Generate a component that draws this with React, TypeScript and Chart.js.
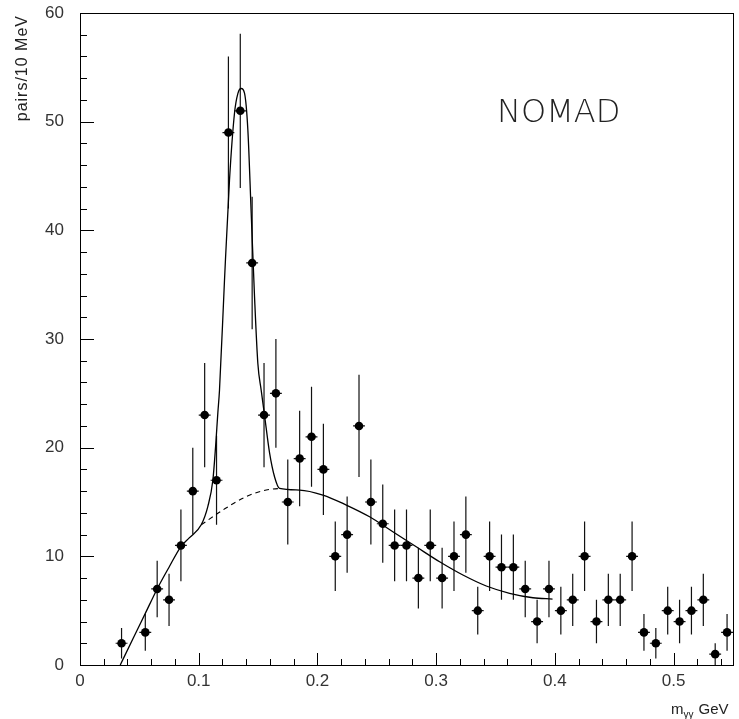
import React, { useEffect, useRef } from "react";
import { Chart, registerables } from "chart.js";

Chart.register(...registerables);

// Bin centres (GeV) and counts per 10 MeV
const massBins = [
  0.035, 0.055, 0.065, 0.075, 0.085, 0.095, 0.105, 0.115, 0.125, 0.135,
  0.145, 0.155, 0.165, 0.175, 0.185, 0.195, 0.205, 0.215, 0.225, 0.235,
  0.245, 0.255, 0.265, 0.275, 0.285, 0.295, 0.305, 0.315, 0.325, 0.335,
  0.345, 0.355, 0.365, 0.375, 0.385, 0.395, 0.405, 0.415, 0.425, 0.435,
  0.445, 0.455, 0.465, 0.475, 0.485, 0.495, 0.505, 0.515, 0.525, 0.535,
  0.545,
];
const pairCounts = [
  2, 3, 7, 6, 11, 16, 23, 17, 49, 51,
  37, 23, 25, 15, 19, 21, 18, 10, 12, 22,
  15, 13, 11, 11, 8, 11, 8, 10, 12, 5,
  10, 9, 9, 7, 4, 7, 5, 6, 10, 4,
  6, 6, 10, 3, 2, 5, 4, 5, 6, 1,
  3,
];
const countErrors = [
  1.4, 1.7, 2.6, 2.4, 3.3, 4.0, 4.8, 4.1, 7.0, 7.1,
  6.1, 4.8, 5.0, 3.9, 4.4, 4.6, 4.2, 3.2, 3.5, 4.7,
  3.9, 3.6, 3.3, 3.3, 2.8, 3.3, 2.8, 3.2, 3.5, 2.2,
  3.2, 3.0, 3.0, 2.6, 2.0, 2.6, 2.2, 2.4, 3.2, 2.0,
  2.4, 2.4, 3.2, 1.7, 1.4, 2.2, 2.0, 2.2, 2.4, 1.0,
  1.7,
];
const binHalfWidth = 0.005;

// Fit curve (signal + background), solid
const fitMass = [
  0.0339, 0.045, 0.055, 0.065, 0.075, 0.085, 0.092, 0.1021, 0.1077, 0.1119,
  0.1142, 0.1161, 0.1175, 0.1217, 0.1259, 0.1301, 0.133, 0.1358, 0.1386, 0.1414,
  0.1442, 0.147, 0.1498, 0.1526, 0.1554, 0.1597, 0.1639, 0.1681, 0.1849, 0.2046,
  0.2243, 0.2439, 0.2635, 0.2832, 0.3029, 0.3225, 0.3422, 0.3618, 0.3815, 0.398,
];
const fitValues = [
  0, 2.5, 4.75, 7.0, 9.0, 10.9, 11.7, 12.9, 14.6, 17.0,
  20.1, 23.2, 25.3, 35.4, 44.6, 50.75, 52.6, 53.05, 52.6, 49.2,
  41.55, 33.9, 27.75, 25.3, 23.0, 19.5, 17.3, 16.25, 16.1, 15.64,
  14.72, 13.64, 12.26, 10.88, 9.5, 8.28, 7.27, 6.6, 6.19, 6.07,
];

// Background under the peak, dashed
const bgMass = [0.1021, 0.1203, 0.14, 0.1569, 0.1681];
const bgValues = [12.9, 14.26, 15.5, 16.1, 16.25];

const xMajorTicks = [0, 0.1, 0.2, 0.3, 0.4, 0.5];
const yMajorTicks = [0, 10, 20, 30, 40, 50, 60];

const FONT = "'Liberation Sans', Arial, sans-serif";

const decorPlugin = {
  id: "decor",
  beforeDatasetsDraw(chart: any) {
    const { ctx, scales } = chart;
    const xs = scales.x;
    const ys = scales.y;
    ctx.save();
    ctx.strokeStyle = "#111";
    ctx.lineWidth = 1.2;
    massBins.forEach((m, i) => {
      const px = xs.getPixelForValue(m);
      const py = ys.getPixelForValue(pairCounts[i]);
      const e = countErrors[i];
      ctx.beginPath();
      ctx.moveTo(px, ys.getPixelForValue(pairCounts[i] - e));
      ctx.lineTo(px, ys.getPixelForValue(pairCounts[i] + e));
      ctx.moveTo(xs.getPixelForValue(m - binHalfWidth), py);
      ctx.lineTo(xs.getPixelForValue(m + binHalfWidth), py);
      ctx.stroke();
    });
    ctx.restore();
  },
  afterDraw(chart: any) {
    const { ctx, chartArea, scales } = chart;
    const xs = scales.x;
    const ys = scales.y;
    const { left, right, top, bottom } = chartArea;
    ctx.save();
    ctx.strokeStyle = "#000";
    ctx.lineWidth = 1;
    ctx.strokeRect(Math.round(left) + 0.5, Math.round(top) + 0.5, Math.round(right - left), Math.round(bottom - top));

    // inward ticks on x axis
    ctx.beginPath();
    for (let k = 0; k <= 27; k++) {
      const v = k * 0.02;
      const px = Math.round(xs.getPixelForValue(v)) + 0.5;
      const major = k % 5 === 0;
      ctx.moveTo(px, bottom);
      ctx.lineTo(px, bottom - (major ? 12 : 6));
    }
    // inward ticks on y axis
    for (let k = 0; k <= 30; k++) {
      const v = k * 2;
      const py = Math.round(ys.getPixelForValue(v)) + 0.5;
      const major = k % 5 === 0;
      ctx.moveTo(left, py);
      ctx.lineTo(left + (major ? 14 : 7), py);
    }
    ctx.stroke();

    // y axis title
    ctx.fillStyle = "#222";
    ctx.save();
    ctx.translate(27, 15);
    ctx.rotate(-Math.PI / 2);
    ctx.font = `16px ${FONT}`;
    (ctx as any).letterSpacing = "1px";
    ctx.textAlign = "right";
    ctx.textBaseline = "alphabetic";
    ctx.fillText("pairs/10 MeV", 0, 0);
    ctx.restore();

    // x axis title: m_γγ GeV
    ctx.textBaseline = "alphabetic";
    ctx.textAlign = "left";
    ctx.font = `15px ${FONT}`;
    const base = 714;
    let x = 671;
    ctx.fillText("m", x, base);
    x += ctx.measureText("m").width;
    ctx.font = `10px ${FONT}`;
    ctx.fillText("γγ", x, base + 4);
    x += ctx.measureText("γγ").width + 5;
    ctx.font = `15px ${FONT}`;
    ctx.fillText("GeV", x, base);

    // NOMAD label
    ctx.fillStyle = "#222";
    ctx.font = `200 32px 'DejaVu Sans', ${FONT}`;
    ctx.textAlign = "left";
    ctx.fillText("NOMAD", 497, 122);
    ctx.restore();
  },
};

export default function App() {
  const canvasRef = useRef<HTMLCanvasElement | null>(null);

  useEffect(() => {
    const canvas = canvasRef.current;
    if (!canvas) return;
    const chart = new Chart(canvas, {
      type: "scatter",
      data: {
        datasets: [
          {
            label: "data",
            data: massBins.map((m, i) => ({ x: m, y: pairCounts[i] })),
            backgroundColor: "#000",
            borderColor: "#000",
            borderWidth: 0,
            pointRadius: 4.3,
            showLine: false,
          },
          {
            label: "fit",
            data: fitMass.map((m, i) => ({ x: m, y: fitValues[i] })),
            borderColor: "#000",
            borderWidth: 1.3,
            pointRadius: 0,
            showLine: true,
            cubicInterpolationMode: "monotone",
          },
          {
            label: "background",
            data: bgMass.map((m, i) => ({ x: m, y: bgValues[i] })),
            borderColor: "#000",
            borderWidth: 1.1,
            borderDash: [5, 4],
            pointRadius: 0,
            showLine: true,
            cubicInterpolationMode: "monotone",
          },
        ],
      },
      options: {
        animation: false,
        responsive: true,
        maintainAspectRatio: false,
        layout: { padding: { top: 13, right: 6, left: 0, bottom: 0 } },
        plugins: {
          legend: { display: false },
          tooltip: { enabled: false },
        },
        scales: {
          x: {
            type: "linear",
            min: 0,
            max: 0.55,
            grid: { display: false, drawTicks: false },
            border: { display: false },
            afterBuildTicks: (scale: any) => {
              scale.ticks = xMajorTicks.map((v) => ({ value: v }));
            },
            afterFit: (scale: any) => {
              scale.height = 54;
              scale.paddingLeft = 0;
              scale.paddingRight = 0;
            },
            ticks: {
              padding: 6,
              color: "#333",
              font: { family: FONT, size: 17 },
              maxRotation: 0,
              autoSkip: false,
              callback: (v: any) => String(Math.round(Number(v) * 10) / 10),
            },
          },
          y: {
            type: "linear",
            min: 0,
            max: 60,
            grid: { display: false, drawTicks: false },
            border: { display: false },
            afterBuildTicks: (scale: any) => {
              scale.ticks = yMajorTicks.map((v) => ({ value: v }));
            },
            afterFit: (scale: any) => {
              scale.width = 80;
              scale.paddingTop = 0;
              scale.paddingBottom = 0;
            },
            ticks: {
              padding: 16,
              color: "#333",
              font: { family: FONT, size: 17 },
              autoSkip: false,
            },
          },
        },
      },
      plugins: [decorPlugin],
    });
    return () => chart.destroy();
  }, []);

  return (
    <div style={{ position: "fixed", left: 0, top: 0, width: 739, height: 719, background: "#fff" }}>
      <canvas ref={canvasRef} />
    </div>
  );
}
